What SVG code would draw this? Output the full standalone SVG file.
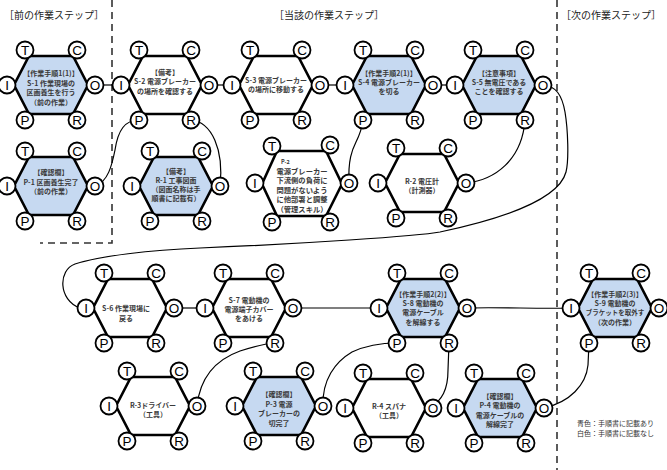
<svg xmlns="http://www.w3.org/2000/svg" xmlns:xlink="http://www.w3.org/1999/xlink" width="667" height="470" viewBox="0 0 667 470">
<style>
.hx{fill:#fff;stroke:#000;stroke-width:2.6;stroke-linejoin:miter}
.blue{fill:#c6d9f1}
.pc{fill:#fff;stroke:#000;stroke-width:1.8}
.pl{font-family:"Liberation Sans",Arial,sans-serif;font-size:13.5px;text-anchor:middle;fill:#000}
.t{font-family:"Noto Sans CJK JP",sans-serif;font-size:7px;font-weight:bold;text-anchor:middle;fill:#3a3a3a}
.t8{font-family:"Noto Sans CJK JP",sans-serif;font-size:7.3px;font-weight:bold;text-anchor:middle;fill:#3a3a3a}
.hd{font-family:"Noto Sans CJK JP",sans-serif;font-size:10px;fill:#222}
.lg{font-family:"Noto Sans CJK JP",sans-serif;font-size:7px;fill:#333}
.cn{fill:none;stroke:#000;stroke-width:1.2}
.dash{fill:none;stroke:#333;stroke-width:1.6;stroke-dasharray:7 5}
</style>
<defs>
<polygon id="hex" points="-22,-29 22,-29 37,0 22,29 -22,29 -37,0"/>
<g id="ports">
<circle class="pc" cx="-26" cy="-35" r="8.5"/><circle class="pc" cx="26" cy="-35" r="8.5"/>
<circle class="pc" cx="-44" cy="0" r="8.5"/><circle class="pc" cx="44" cy="0" r="8.5"/>
<circle class="pc" cx="-26" cy="35" r="8.5"/><circle class="pc" cx="26" cy="35" r="8.5"/>
<text class="pl" x="-26" y="-30.2">T</text><text class="pl" x="26" y="-30.2">C</text>
<text class="pl" x="-44" y="4.8">I</text><text class="pl" x="44" y="4.8">O</text>
<text class="pl" x="-26" y="39.8">P</text><text class="pl" x="26" y="39.8">R</text>
</g>
</defs>
<rect width="667" height="470" fill="#fff"/>

<g id="frames">
<path class="dash" d="M112,0 V243 H40"/>
<path class="dash" d="M557,0 V470"/>
<text class="hd" x="4" y="19">［前の作業ステップ］</text>
<text class="hd" x="274" y="19">［当該の作業ステップ］</text>
<text class="hd" x="561" y="19">［次の作業ステップ］</text>
</g>

<g id="connectors">
<path class="cn" d="M95,85 H121"/>
<path class="cn" d="M209,85 H232"/>
<path class="cn" d="M320,85 H345"/>
<path class="cn" d="M433,85 H455"/>
<path class="cn" d="M543,85 C556,86 562,95 565,112 C568,130 569,160 566,172 C560,195 520,215 440,232 C418,236 300,244 200,248 C150,250 100,256 75,264 C58,270 58,300 80,308"/>
<path class="cn" d="M191,120 C212,122 224,150 220,186"/>
<path class="cn" d="M95,186 C108,182 112,165 115,150 C118,130 125,120 139,120"/>
<path class="cn" d="M349,183 C348,160 352,150 356,142 C360,134 362,128 363,120"/>
<path class="cn" d="M466,183 C495,180 522,160 525,120"/>
<path class="cn" d="M174,308 H205"/>
<path class="cn" d="M293,308 H379"/>
<path class="cn" d="M467,308 C500,307 540,309 571,308"/>
<path class="cn" d="M197,406 C200,378 215,360 240,351 C252,347 262,344 275,343"/>
<path class="cn" d="M323,406 C322,380 335,362 352,352 C365,346 380,343 397,343"/>
<path class="cn" d="M430,408 C442,400 448,390 448,370 L449,343"/>
<path class="cn" d="M544,408 C570,402 586,385 588,365 L589,343"/>
</g>

<g id="S-1" transform="translate(51,85)">
<use href="#hex" class="hx blue"/>
<text class="t" x="0" y="-9.4">【作業手順1(1)】</text>
<text class="t" x="0" y="0.6">S-1 作業現場の</text>
<text class="t" x="0" y="10.1">区画養生を行う</text>
<text class="t" x="0" y="19.6">（前の作業）</text>
<use href="#ports"/>
</g>
<g id="S-2" transform="translate(165,85)">
<use href="#hex" class="hx"/>
<text class="t" x="0" y="-10.4">【備考】</text>
<text class="t" x="0" y="-0.9">S-2 電源ブレーカー</text>
<text class="t" x="0" y="8.6">の場所を確認する</text>
<use href="#ports"/>
</g>
<g id="S-3" transform="translate(276,85)">
<use href="#hex" class="hx"/>
<text class="t" x="0" y="-2.4">S-3 電源ブレーカー</text>
<text class="t" x="0" y="6.6">の場所に移動する</text>
<use href="#ports"/>
</g>
<g id="S-4" transform="translate(389,85)">
<use href="#hex" class="hx blue"/>
<text class="t" x="0" y="-9.4">【作業手順2(1)】</text>
<text class="t" x="0" y="-0.4">S-4 電源ブレーカー</text>
<text class="t" x="0" y="8.6">を切る</text>
<use href="#ports"/>
</g>
<g id="S-5" transform="translate(499,85)">
<use href="#hex" class="hx blue"/>
<text class="t" x="0" y="-9.4">【注意事項】</text>
<text class="t" x="0" y="-0.4">S-5 無電圧である</text>
<text class="t" x="0" y="8.6">ことを確認する</text>
<use href="#ports"/>
</g>

<g id="P-1" transform="translate(51,186)">
<use href="#hex" class="hx blue"/>
<text class="t" x="0" y="-11.4">【確認欄】</text>
<text class="t" x="0" y="-1.4">P-1 区画養生完了</text>
<text class="t" x="0" y="7.6">（前の作業）</text>
<use href="#ports"/>
</g>
<g id="R-1" transform="translate(176,186)">
<use href="#hex" class="hx blue"/>
<text class="t" x="0" y="-12.4">【備考】</text>
<text class="t" x="0" y="-3.4">R-1 工事図面</text>
<text class="t" x="0" y="5.6">（図面名称は手</text>
<text class="t" x="0" y="14.6">順書に記載有）</text>
<use href="#ports"/>
</g>
<g id="P-2">
<polygon class="hx" points="277,151 326,151 342,184 326,216 277,216 262,184"/>
<text class="t" x="281" y="163.5" style="font-size:5.5px;text-anchor:start">P-2</text>
<text class="t8" x="302" y="173.5">電源ブレーカー</text>
<text class="t8" x="302" y="183">下流側の負荷に</text>
<text class="t8" x="302" y="192.5">問題がないよう</text>
<text class="t8" x="302" y="202">に他部署と調整</text>
<text class="t8" x="302" y="211.5">（管理スキル）</text>
<circle class="pc" cx="272" cy="146" r="8.5"/><circle class="pc" cx="330" cy="145" r="8.5"/>
<circle class="pc" cx="255" cy="183" r="8.5"/><circle class="pc" cx="349" cy="183" r="8.5"/>
<circle class="pc" cx="272" cy="222" r="8.5"/><circle class="pc" cx="330" cy="222" r="8.5"/>
<text class="pl" x="272" y="150.8">T</text><text class="pl" x="330" y="149.8">C</text>
<text class="pl" x="255" y="187.8">I</text><text class="pl" x="349" y="187.8">O</text>
<text class="pl" x="272" y="226.8">P</text><text class="pl" x="330" y="226.8">R</text>
</g>
<g id="R-2" transform="translate(422,183)">
<use href="#hex" class="hx"/>
<text class="t" x="0" y="0.6">R-2 電圧計</text>
<text class="t" x="0" y="9.6">（計測器）</text>
<use href="#ports"/>
</g>

<g id="S-6" transform="translate(130,308)">
<use href="#hex" class="hx"/>
<text class="t" x="-4" y="2.6">S-6 作業現場に</text>
<text class="t" x="-4" y="12.6">戻る</text>
<use href="#ports"/>
</g>
<g id="S-7" transform="translate(249,308)">
<use href="#hex" class="hx"/>
<text class="t" x="0" y="-5.4">S-7 電動機の</text>
<text class="t" x="0" y="3.6">電源端子カバー</text>
<text class="t" x="0" y="12.6">をあける</text>
<use href="#ports"/>
</g>
<g id="S-8" transform="translate(423,308)">
<use href="#hex" class="hx blue"/>
<text class="t" x="0" y="-11.4">【作業手順2(2)】</text>
<text class="t" x="0" y="-2.4">S-8 電動機の</text>
<text class="t" x="0" y="7.1">電源ケーブル</text>
<text class="t" x="0" y="16.6">を解線する</text>
<use href="#ports"/>
</g>
<g id="S-9" transform="translate(615,308)">
<use href="#hex" class="hx blue"/>
<text class="t" x="0" y="-11.4">【作業手順2(3)】</text>
<text class="t" x="0" y="-2.4">S-9 電動機の</text>
<text class="t" x="0" y="7.1" style="font-size:6.5px">ブラケットを取外す</text>
<text class="t" x="0" y="16.6">（次の作業）</text>
<use href="#ports"/>
</g>

<g id="R-3" transform="translate(153,406)">
<use href="#hex" class="hx"/>
<text class="t" x="0" y="1.6">R-3ドライバー</text>
<text class="t" x="0" y="10.6">（工具）</text>
<use href="#ports"/>
</g>
<g id="P-3" transform="translate(279,406)">
<use href="#hex" class="hx blue"/>
<text class="t" x="0" y="-8.9">【確認欄】</text>
<text class="t" x="0" y="0.6">P-3 電源</text>
<text class="t" x="0" y="10.1">ブレーカーの</text>
<text class="t" x="0" y="19.6">切完了</text>
<use href="#ports"/>
</g>
<g id="R-4" transform="translate(389,408)">
<use href="#hex" class="hx"/>
<text class="t" x="0" y="0.6">R-4 スパナ</text>
<text class="t" x="0" y="9.6">（工具）</text>
<use href="#ports"/>
</g>
<g id="P-4" transform="translate(500,408)">
<use href="#hex" class="hx blue"/>
<text class="t" x="0" y="-9.4">【確認欄】</text>
<text class="t" x="0" y="0.1">P-4 電動機の</text>
<text class="t" x="0" y="9.6">電源ケーブルの</text>
<text class="t" x="0" y="19.1">解線完了</text>
<use href="#ports"/>
</g>

<g id="legend">
<text class="lg" x="577" y="425.5">青色：手順書に記載あり</text>
<text class="lg" x="577" y="435.5">白色：手順書に記載なし</text>
</g>
</svg>
